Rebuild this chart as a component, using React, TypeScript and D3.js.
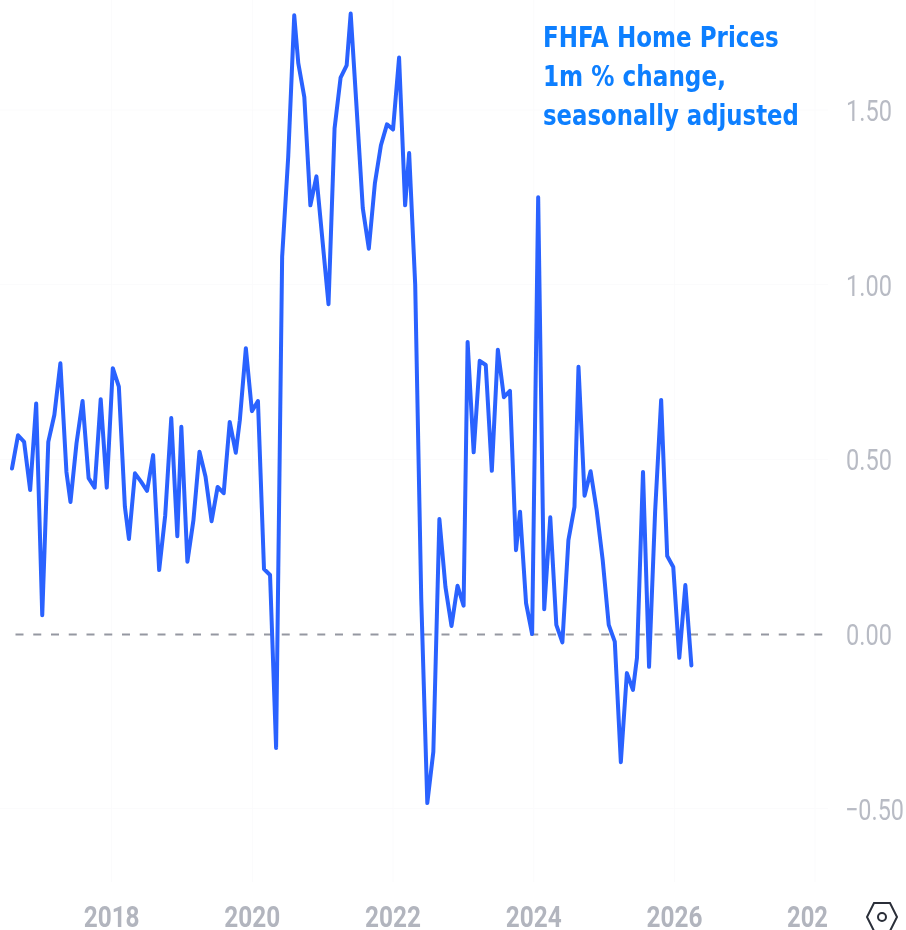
import { useEffect, useRef } from 'react';
import * as d3 from 'd3';

const startYear = 2016;
const startMonth = 7; // Aug 2016

const momChange = [
  0.474, 0.569, 0.55, 0.412, 0.66, 0.054, 0.55, 0.627, 0.775, 0.464,
  0.378, 0.546, 0.667, 0.446, 0.419, 0.672, 0.419, 0.761, 0.708, 0.364,
  0.272, 0.46, 0.436, 0.41, 0.512, 0.183, 0.34, 0.618, 0.28, 0.593,
  0.207, 0.326, 0.522, 0.45, 0.323, 0.421, 0.403, 0.607, 0.519, 0.612,
  0.818, 0.638, 0.667, 0.186, 0.169, -0.326, 1.08, 1.365, 1.771, 1.634,
  1.537, 1.227, 1.31, 1.127, 0.944, 1.447, 1.593, 1.628, 1.776, 1.5,
  1.219, 1.103, 1.29, 1.399, 1.459, 1.444, 1.65, 1.227, 1.377, 1.0,
  0.1, -0.484, -0.337, 0.329, 0.135, 0.023, 0.138, 0.081, 0.836, 0.52,
  0.782, 0.77, 0.467, 0.814, 0.678, 0.696, 0.24, 0.35, 0.088, 0.0,
  1.25, 0.071, 0.334, 0.026, -0.024, 0.269, 0.364, 0.765, 0.396, 0.466,
  0.355, 0.212, 0.026, -0.022, -0.367, -0.112, -0.16, -0.069, 0.464, -0.094,
  0.35, 0.67, 0.223, 0.192, -0.068, 0.14, -0.09,
];

const yTicks = [1.5, 1.0, 0.5, 0.0, -0.5];
const xTickYears = [2018, 2020, 2022, 2024, 2026, 2028];
const titleLines = ['FHFA Home Prices', '1m % change,', 'seasonally adjusted'];
const titleWidths = [236, 183, 256];

const monthIndex = (d: Date) =>
  (d.getUTCFullYear() - startYear) * 12 + d.getUTCMonth() - startMonth;

const formatY = (v: number) => (v < 0 ? '\u2212' : '') + Math.abs(v).toFixed(2);

// squeeze a text to a given width, the source image is stretched
const fitText = (
  sel: d3.Selection<SVGTextElement, any, any, any>,
  left: (d: any, i: number) => number,
  base: (d: any, i: number) => number,
  targetWidth: (d: any, i: number) => number,
) => {
  sel.each(function (d, i) {
    const natural = this.getComputedTextLength();
    const k = targetWidth(d, i) / natural;
    d3.select(this).attr('transform', `translate(${left(d, i)},${base(d, i)}) scale(${k},1)`);
  });
};

const App = () => {
  const svgRef = useRef<SVGSVGElement>(null);

  useEffect(() => {
    const width = 906;
    const height = 930;

    const svg = d3.select(svgRef.current);
    svg.selectAll('*').remove();
    svg.attr('width', width).attr('height', height);

    const dates = momChange.map((_, i) => new Date(Date.UTC(startYear, startMonth + i, 1)));

    const x = d3.scaleLinear().domain([0, momChange.length - 1]).range([12, 692]);
    const y = d3.scaleLinear().domain([0, 1.5]).range([634, 110]);

    // the bars sit on the whole pixels of the smaller source chart
    const sourceX = d3.scaleLinear().domain([0, momChange.length - 1]).range([0.96, 337]);
    const barX = (i: number) => 12 + 2.016 * Math.floor(sourceX(i));

    const defs = svg.append('defs');
    defs.append('filter').attr('id', 'soft')
      .append('feGaussianBlur').attr('stdDeviation', 0.55);

    const g = svg.append('g').attr('filter', 'url(#soft)');

    // faint grid
    g.selectAll('line.h').data(yTicks.filter(t => t !== 0)).enter().append('line')
      .attr('x1', 0).attr('x2', 828)
      .attr('y1', d => y(d)).attr('y2', d => y(d))
      .attr('stroke', '#fbfbfc').attr('stroke-width', 1);

    const tickX = (year: number) => x(monthIndex(new Date(Date.UTC(year, 0, 1))));

    g.selectAll('line.v').data(xTickYears).enter().append('line')
      .attr('x1', d => tickX(d)).attr('x2', d => tickX(d))
      .attr('y1', 0).attr('y2', 882)
      .attr('stroke', '#fbfbfc').attr('stroke-width', 1);

    // zero line
    g.append('line')
      .attr('x1', 15.5).attr('x2', 828)
      .attr('y1', y(0) + 0.5).attr('y2', y(0) + 0.5)
      .attr('stroke', '#9598a1').attr('stroke-width', 2)
      .attr('stroke-dasharray', '8 9.75');

    const line = d3.line<number>()
      .x((_, i) => barX(monthIndex(dates[i])))
      .y(d => y(d));

    g.append('path')
      .datum(momChange)
      .attr('fill', 'none')
      .attr('stroke', '#2962ff')
      .attr('stroke-width', 4)
      .attr('stroke-linejoin', 'round')
      .attr('stroke-linecap', 'round')
      .attr('d', line);

    // y axis labels
    const yLabels = g.selectAll('text.y').data(yTicks).enter().append('text')
      .attr('font-family', 'Roboto, sans-serif')
      .attr('font-size', 30)
      .attr('fill', '#b8bbc4')
      .text(formatY);
    fitText(yLabels as any, d => (d < 0 ? 845 : 846), d => y(d) + 11, d => (d < 0 ? 59 : 46));

    // x axis labels, the last one is cut off by the price scale
    const xLabels = g.selectAll('text.x').data(xTickYears).enter().append('text')
      .attr('font-family', 'Roboto, sans-serif')
      .attr('font-weight', 700)
      .attr('font-size', 29)
      .attr('fill', '#b2b5be')
      .text(d => (d === 2028 ? '202' : String(d)));
    fitText(xLabels as any, d => (d === 2028 ? 787 : tickX(d) - 28), () => 927, d => (d === 2028 ? 41 : 56));

    // title block
    const title = g.selectAll('text.title').data(titleLines).enter().append('text')
      .attr('font-family', '"DejaVu Sans", sans-serif')
      .attr('font-weight', 700)
      .attr('font-size', 28)
      .attr('fill', '#0f7fff')
      .text(d => d);
    fitText(title as any, () => 543, (_, i) => 47 + i * 39, (_, i) => titleWidths[i]);

    // settings icon
    const cx = 882;
    const cy = 917;
    const hex = d3.line<[number, number]>().curve(d3.curveLinearClosed)([
      [cx - 8, cy - 14], [cx + 8, cy - 14], [cx + 15, cy],
      [cx + 8, cy + 14], [cx - 8, cy + 14], [cx - 15, cy],
    ]);
    g.append('path').attr('d', hex).attr('fill', 'none')
      .attr('stroke', '#2a2e39').attr('stroke-width', 2);
    g.append('circle').attr('cx', cx).attr('cy', cy).attr('r', 4)
      .attr('fill', 'none').attr('stroke', '#2a2e39').attr('stroke-width', 2);
  }, []);

  return (
    <div style={{ position: 'absolute', left: 0, top: 0, background: '#fff', overflow: 'hidden' }}>
      <svg ref={svgRef} style={{ display: 'block' }} />
    </div>
  );
};

export default App;
